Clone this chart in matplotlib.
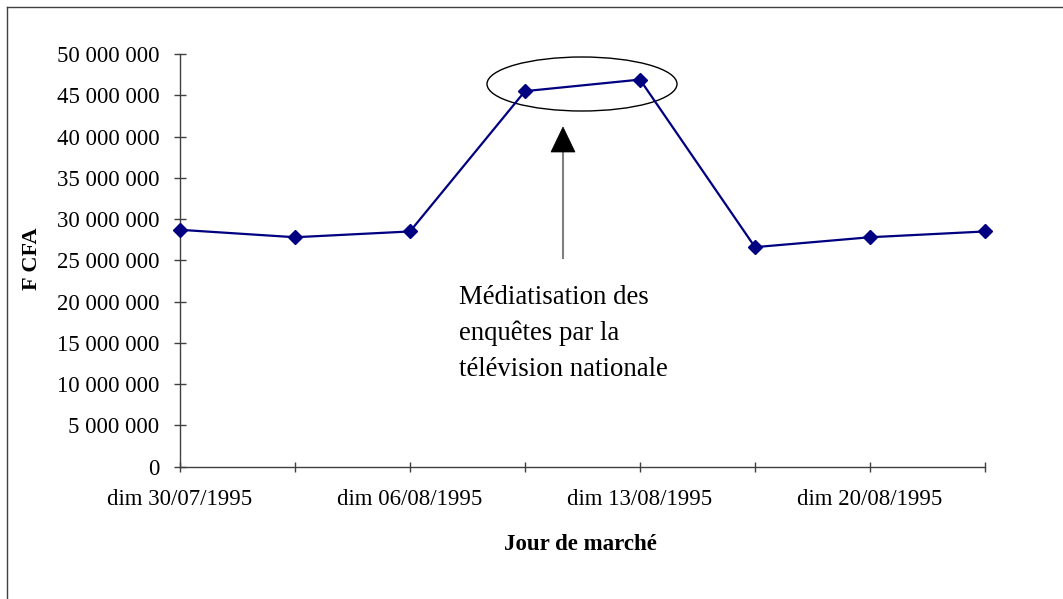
import matplotlib
matplotlib.use("Agg")
import matplotlib.pyplot as plt
from matplotlib.patches import Ellipse, Polygon
from matplotlib.lines import Line2D
from matplotlib.ticker import FuncFormatter

# ---- data ----
categories = list(range(8))
tick_labels = ["dim 30/07/1995", "", "dim 06/08/1995", "", "dim 13/08/1995", "",
               "dim 20/08/1995", ""]
values = [28.7e6, 27.8e6, 28.5e6, 45.5e6, 46.9e6, 26.6e6, 27.8e6, 28.5e6]
y_ticks = [0, 5e6, 10e6, 15e6, 20e6, 25e6, 30e6, 35e6, 40e6, 45e6, 50e6]
annotation_text = "Médiatisation des\nenquêtes par la\ntélévision nationale"

plt.rcParams['font.family'] = ['Liberation Serif', 'DejaVu Serif']

W, H = 1063, 599
fig = plt.figure(figsize=(W / 100, H / 100), dpi=100)
ax = fig.add_axes([180 / W, 1 - 466.7 / H, (985 - 180) / W, (466.7 - 54) / H])

ax.plot(categories, values, color='#000080', lw=1.6, marker='D', ms=7,
        markerfacecolor='#000080', markeredgecolor='#000080', clip_on=False, zorder=3)

ax.set_xlim(0, 7)
ax.set_ylim(0, 50e6)
ax.set_xticks(categories)
ax.set_xticklabels(tick_labels)
ax.set_yticks(y_ticks)
ax.yaxis.set_major_formatter(FuncFormatter(lambda v, p: f"{int(v):,}".replace(",", " ")))

for s in ['top', 'right']:
    ax.spines[s].set_visible(False)
for s in ['left', 'bottom']:
    ax.spines[s].set_color('#404040')
    ax.spines[s].set_linewidth(1.0)

ax.tick_params(axis='y', direction='inout', length=8, width=1, color='#404040',
               labelsize=16.5, pad=11)
ax.tick_params(axis='x', direction='inout', length=7.5, width=1, color='#404040',
               labelsize=16.5, pad=12)

ax.set_ylabel("F CFA", fontsize=16, fontweight='bold')
ax.yaxis.set_label_coords((42 - 180) / (985 - 180), (466.7 - 259) / (466.7 - 54))
ax.set_xlabel("Jour de marché", fontsize=16.5, fontweight='bold')
ax.xaxis.set_label_coords((580 - 180) / (985 - 180), -(544 - 466.7) / (466.7 - 54))
ax.xaxis.label.set_va('center')

# pixel -> data helpers
def px_x(px):
    return (px - 180) / 115.0
def px_y(py):
    return (466.7 - py) / ((466.7 - 54) / 50e6)

# ellipse
ell = Ellipse((px_x(582), px_y(84)), width=190 / 115.0, height=54 * 50e6 / (466.7 - 54),
              fill=False, edgecolor='black', lw=1.0, clip_on=False, zorder=2)
ax.add_patch(ell)

# arrow: gray shaft + black head
ax.add_line(Line2D([px_x(563), px_x(563)], [px_y(258), px_y(152)], color='#808080', lw=1.5, zorder=2))
head = Polygon([[px_x(551), px_y(152)], [px_x(575), px_y(152)], [px_x(563), px_y(127)]],
               closed=True, facecolor='black', edgecolor='black', lw=0.5, zorder=2)
ax.add_patch(head)

ax.text(px_x(459), px_y(285), annotation_text, fontsize=19.3, ha='left', va='top',
        linespacing=1.55)

# outer frame (top and left)
fig.add_artist(Line2D([7 / W, 1], [1 - 7 / H, 1 - 7 / H], color='#404040', lw=1.0))
fig.add_artist(Line2D([7 / W, 7 / W], [0, 1 - 7 / H], color='#404040', lw=1.0))

fig.savefig("out.png", dpi=100)
